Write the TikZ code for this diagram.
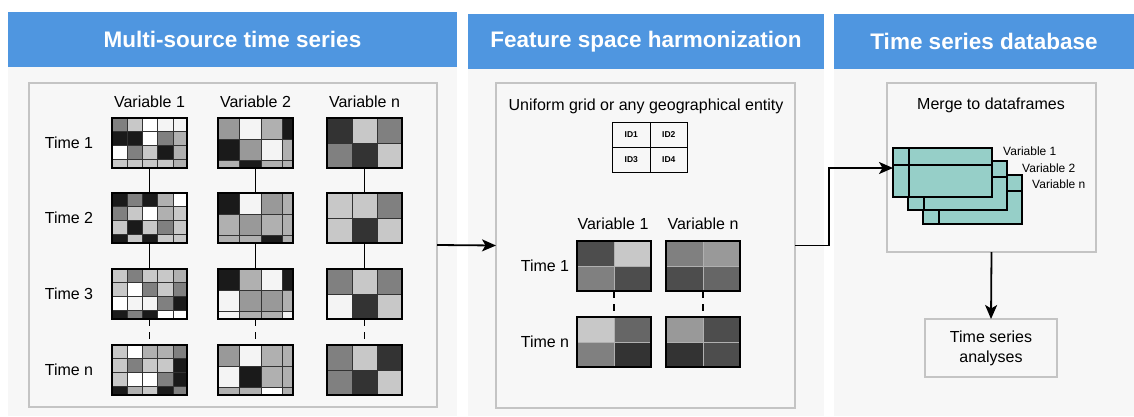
\documentclass[tikz,border=0pt]{standalone}
\usepackage{fontspec}
\setmainfont{Liberation Sans}
\usetikzlibrary{arrows.meta,calc}

\definecolor{hdrblue}{HTML}{4F96E0}
\definecolor{panelbg}{HTML}{F7F7F7}
\definecolor{boxline}{HTML}{C4C4C4}
\definecolor{dfteal}{HTML}{96CFC8}
\definecolor{gK}{HTML}{1A1A1A}
\definecolor{gD}{HTML}{333333}
\definecolor{gE}{HTML}{4D4D4D}
\definecolor{gF}{HTML}{666666}
\definecolor{gM}{HTML}{808080}
\definecolor{gN}{HTML}{999999}
\definecolor{gL}{HTML}{B0B0B0}
\definecolor{gC}{HTML}{C8C8C8}
\definecolor{gW}{HTML}{F4F4F4}
\definecolor{gZ}{HTML}{FFFFFF}

\tikzset{
  hdr/.style={fill=hdrblue, text=white, inner sep=0pt, outer sep=0pt,
    font=\fontsize{22.5}{26}\selectfont\bfseries, anchor=north west},
  panel/.style={fill=panelbg, inner sep=0pt, outer sep=0pt, anchor=north west},
  inbox/.style={draw=boxline, line width=1.5pt, fill=panelbg, inner sep=0pt, outer sep=0pt, anchor=north west},
  lbl/.style={font=\fontsize{16}{19}\selectfont, inner sep=0pt},
  smlbl/.style={font=\fontsize{12}{14}\selectfont, inner sep=0pt, anchor=west},
  idlbl/.style={font=\fontsize{8.5}{10}\selectfont\bfseries, inner sep=0pt},
  gridframe/.style={draw=black, line width=1.8pt, inner sep=0pt, outer sep=0pt},
  darkcell/.style={draw=gD, line width=0.9pt},
  lightcell/.style={draw=gL, line width=0.9pt},
  conn/.style={line width=1.8pt},
  dconn/.style={line width=1.8pt, dash pattern=on 7pt off 6pt},
  arr/.style={line width=1.8pt, -{Stealth[length=14pt,width=12pt,inset=3.5pt]}},
  df/.style={draw=black, fill=dfteal, line width=1.6pt, inner sep=0pt, outer sep=0pt,
    minimum width=99pt, minimum height=49pt, anchor=north west},
  dfline/.style={line width=1.6pt},
}

% #1 name, #2 x, #3 y, #4 cell w, #5 cell h, #6 W, #7 H, #8 rows, #9 cell style
\newcommand\mkgrid[9]{%
  \begin{scope}
    \clip (#2,#3) rectangle ++(#6,#7);
    \foreach \rowlist [count=\r from 0] in {#8} {
      \foreach \cc [count=\k from 0] in \rowlist {
        \filldraw[fill=\cc, #9] ({#2+\k*#4},{#3+\r*#5}) rectangle ++(#4,#5);
      }
    }
  \end{scope}
  \node[gridframe, minimum width=#6, minimum height=#7, anchor=north west] (#1) at (#2,#3) {};
}

\begin{document}
\begin{tikzpicture}[x=1pt, y=-1pt]
\fill[white] (0,0) rectangle (1134,416);
\useasboundingbox (0,0) rectangle (1134,416);

% panels
\node[panel, minimum width=449, minimum height=349] (p1) at (8,67) {};
\node[panel, minimum width=356, minimum height=347] (p2) at (468,69) {};
\node[panel, minimum width=300, minimum height=347] (p3) at (834,69) {};
\node[hdr, minimum width=449, minimum height=55] (h1) at (8,12) {Multi-source time series};
\node[hdr, minimum width=356, minimum height=55] (h2) at (468,14) {Feature space harmonization};
\node[hdr, minimum width=300, minimum height=55] (h3) at (834,14) {Time series database};

% inner boxes
\node[inbox, minimum width=408, minimum height=324] (box1) at (29,83) {};
\node[inbox, minimum width=299, minimum height=325] (box2) at (496,83) {};
\node[inbox, minimum width=209, minimum height=169] (box3) at (887,83) {};

% ---------- panel 1 ----------
\node[lbl] (v1) at (149.5,102) {Variable 1};
\node[lbl] (v2) at (255.5,102) {Variable 2};
\node[lbl] (vn) at (364.5,102) {Variable n};
\node[lbl] (t1) at (69,143) {Time 1};
\node[lbl] (t2) at (69,218) {Time 2};
\node[lbl] (t3) at (69,294) {Time 3};
\node[lbl] (tn) at (69,370) {Time n};

\mkgrid{g11}{112}{118}{15.3}{13.7}{75}{50}{{gM,gC,gZ,gW,gW},{gK,gK,gZ,gM,gL},{gZ,gM,gC,gK,gL},{gC,gC,gC,gC,gL}}{darkcell}
\mkgrid{g12}{112}{193}{15.3}{13.7}{75}{50}{{gK,gM,gK,gL,gZ},{gM,gC,gZ,gL,gC},{gC,gK,gC,gM,gC},{gK,gC,gK,gC,gC}}{darkcell}
\mkgrid{g13}{112}{269}{15.3}{13.7}{75}{50}{{gC,gM,gC,gC,gL},{gC,gZ,gM,gC,gM},{gZ,gW,gW,gM,gK},{gK,gM,gK,gZ,gZ}}{darkcell}
\mkgrid{g1n}{112}{345}{15.3}{13.7}{75}{50}{{gC,gZ,gL,gL,gM},{gC,gM,gC,gC,gK},{gC,gZ,gZ,gM,gK},{gK,gL,gC,gK,gM}}{darkcell}

\mkgrid{g21}{218}{118}{21.5}{21}{75}{50}{{gN,gW,gL,gK},{gK,gN,gW,gL},{gL,gK,gL,gL}}{darkcell}
\mkgrid{g22}{218}{193}{21.5}{21}{75}{50}{{gK,gW,gN,gL},{gL,gN,gL,gL},{gL,gL,gK,gL}}{darkcell}
\mkgrid{g23}{218}{269}{21.5}{21}{75}{50}{{gK,gL,gW,gK},{gW,gN,gN,gL},{gW,gL,gL,gW}}{darkcell}
\mkgrid{g2n}{218}{345}{21.5}{21}{75}{50}{{gN,gW,gL,gL},{gW,gK,gL,gL},{gL,gL,gZ,gL}}{darkcell}

\mkgrid{gn1}{327}{118}{25}{25}{75}{50}{{gD,gC,gM},{gM,gD,gC}}{darkcell}
\mkgrid{gn2}{327}{193}{25}{25}{75}{50}{{gC,gC,gM},{gC,gD,gC}}{darkcell}
\mkgrid{gn3}{327}{269}{25}{25}{75}{50}{{gM,gC,gM},{gW,gD,gC}}{darkcell}
\mkgrid{gnn}{327}{345}{25}{25}{75}{50}{{gM,gC,gD},{gM,gD,gC}}{darkcell}

\draw[conn] (g11.south) -- (g12.north);
\draw[conn] (g12.south) -- (g13.north);
\draw[dconn] (g13.south) -- (g1n.north);
\draw[conn] (g21.south) -- (g22.north);
\draw[conn] (g22.south) -- (g23.north);
\draw[dconn] (g23.south) -- (g2n.north);
\draw[conn] (gn1.south) -- (gn2.north);
\draw[conn] (gn2.south) -- (gn3.north);
\draw[dconn] (gn3.south) -- (gnn.north);

% ---------- panel 2 ----------
\node[lbl] (ug) at (646,106) {Uniform grid or any geographical entity};
\tikzset{idcell/.style={draw, line width=1pt, minimum width=37.5, minimum height=25, inner sep=0pt, anchor=north west}}
\node[idcell] (id1) at (612,122) {};
\node[idcell] (id2) at (649.5,122) {};
\node[idcell] (id3) at (612,147) {};
\node[idcell] (id4) at (649.5,147) {};
\node[idlbl] (id1t) at (id1.center) {ID1};
\node[idlbl] (id2t) at (id2.center) {ID2};
\node[idlbl] (id3t) at (id3.center) {ID3};
\node[idlbl] (id4t) at (id4.center) {ID4};

\node[lbl] (hv1) at (613,224) {Variable 1};
\node[lbl] (hvn) at (703,224) {Variable n};
\node[lbl] (ht1) at (545,266) {Time 1};
\node[lbl] (htn) at (545,342) {Time n};

\mkgrid{a1}{577}{241}{37}{25}{74}{50}{{gE,gC},{gM,gE}}{lightcell}
\mkgrid{b1}{666}{241}{37}{25}{74}{50}{{gM,gN},{gE,gF}}{lightcell}
\mkgrid{an}{577}{317}{37}{25}{74}{50}{{gC,gF},{gM,gD}}{lightcell}
\mkgrid{bn}{666}{317}{37}{25}{74}{50}{{gN,gE},{gD,gE}}{lightcell}
\draw[dconn] (a1.south) -- (an.north);
\draw[dconn] (b1.south) -- (bn.north);

% ---------- panel 3 ----------
\node[lbl] (mg) at (991,105) {Merge to dataframes};
\node[df] (df3) at (923,175) {};
\draw[dfline] ([xshift=16pt]df3.north west) -- ([xshift=16pt]df3.south west);
\draw[dfline] ([yshift=-16pt]df3.north west) -- ([yshift=-16pt]df3.north east);
\node[df] (df2) at (908,161) {};
\draw[dfline] ([xshift=16pt]df2.north west) -- ([xshift=16pt]df2.south west);
\draw[dfline] ([yshift=-16pt]df2.north west) -- ([yshift=-16pt]df2.north east);
\node[df] (df1) at (893,148) {};
\draw[dfline] ([xshift=16pt]df1.north west) -- ([xshift=16pt]df1.south west);
\draw[dfline] ([yshift=-17pt]df1.north west) -- ([yshift=-17pt]df1.north east);
\node[smlbl] (dl1) at (1003,151) {Variable 1};
\node[smlbl] (dl2) at (1022,168) {Variable 2};
\node[smlbl] (dl3) at (1032,184) {Variable n};

\node[inbox, minimum width=132, minimum height=58] (ana) at (925,319) {};
\node[lbl, align=center, font=\fontsize{16}{20}\selectfont] (anat) at (ana.center) {Time series\\analyses};

% ---------- arrows ----------
\draw[arr] (box1.east) -- (box2.west);
\coordinate (dfin) at ([yshift=4.5pt]df1.west);
\draw[arr] (box2.east) -- ++(34,0) |- (dfin);
\draw[arr] (box3.south) -- (ana.north);
\end{tikzpicture}
\end{document}
